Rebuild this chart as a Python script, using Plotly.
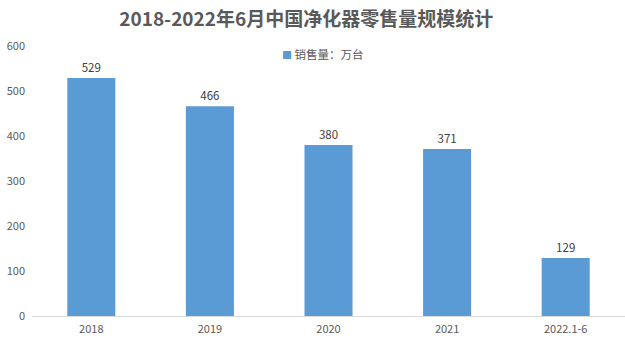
import plotly.graph_objects as go

categories = ["2018", "2019", "2020", "2021", "2022.1-6"]
sales = [529, 466, 380, 371, 129]
series_name = "销售量：万台"
title = "2018-2022年6月中国净化器零售量规模统计"

font = "Noto Sans CJK SC, sans-serif"
bar_color = "#5B9BD5"
fig = go.Figure()
fig.add_trace(go.Bar(
    x=categories, y=sales, name=series_name,
    marker=dict(color=bar_color, line=dict(width=0)),
    width=0.405,
    text=[str(v) for v in sales], textposition="outside",
    textfont=dict(size=11.5, color="#404040", family=font),
    cliponaxis=False, hoverinfo="skip",
))
fig.add_annotation(
    text="<span style='color:%s;font-size:10px'>■</span> %s" % (bar_color, series_name),
    xref="paper", yref="paper", x=0.491, y=0.970, xanchor="center", yanchor="middle",
    showarrow=False, font=dict(size=11.5, color="#595959", family=font),
)
fig.update_layout(
    width=625, height=358,
    margin=dict(l=32, r=0, t=46, b=42),
    paper_bgcolor="white", plot_bgcolor="white",
    title=dict(text="<b>" + title + "</b>", x=0.49, xanchor="center", y=0.947, yanchor="middle",
               font=dict(size=19, color="#595959", family=font)),
    showlegend=False,
    xaxis=dict(showline=True, linecolor="#D9D9D9", linewidth=1, ticks="",
               tickfont=dict(size=11, color="#595959", family=font), showgrid=False,
               ticklabelstandoff=3),
    yaxis=dict(range=[0, 600], dtick=100, showgrid=False, zeroline=False, showline=False,
               tickfont=dict(size=11, color="#595959", family=font), ticklabelstandoff=6),
    bargap=0.6,
)
fig.write_html("out.html", config={"displayModeBar": False},
               post_script="document.body.style.margin='0';")
